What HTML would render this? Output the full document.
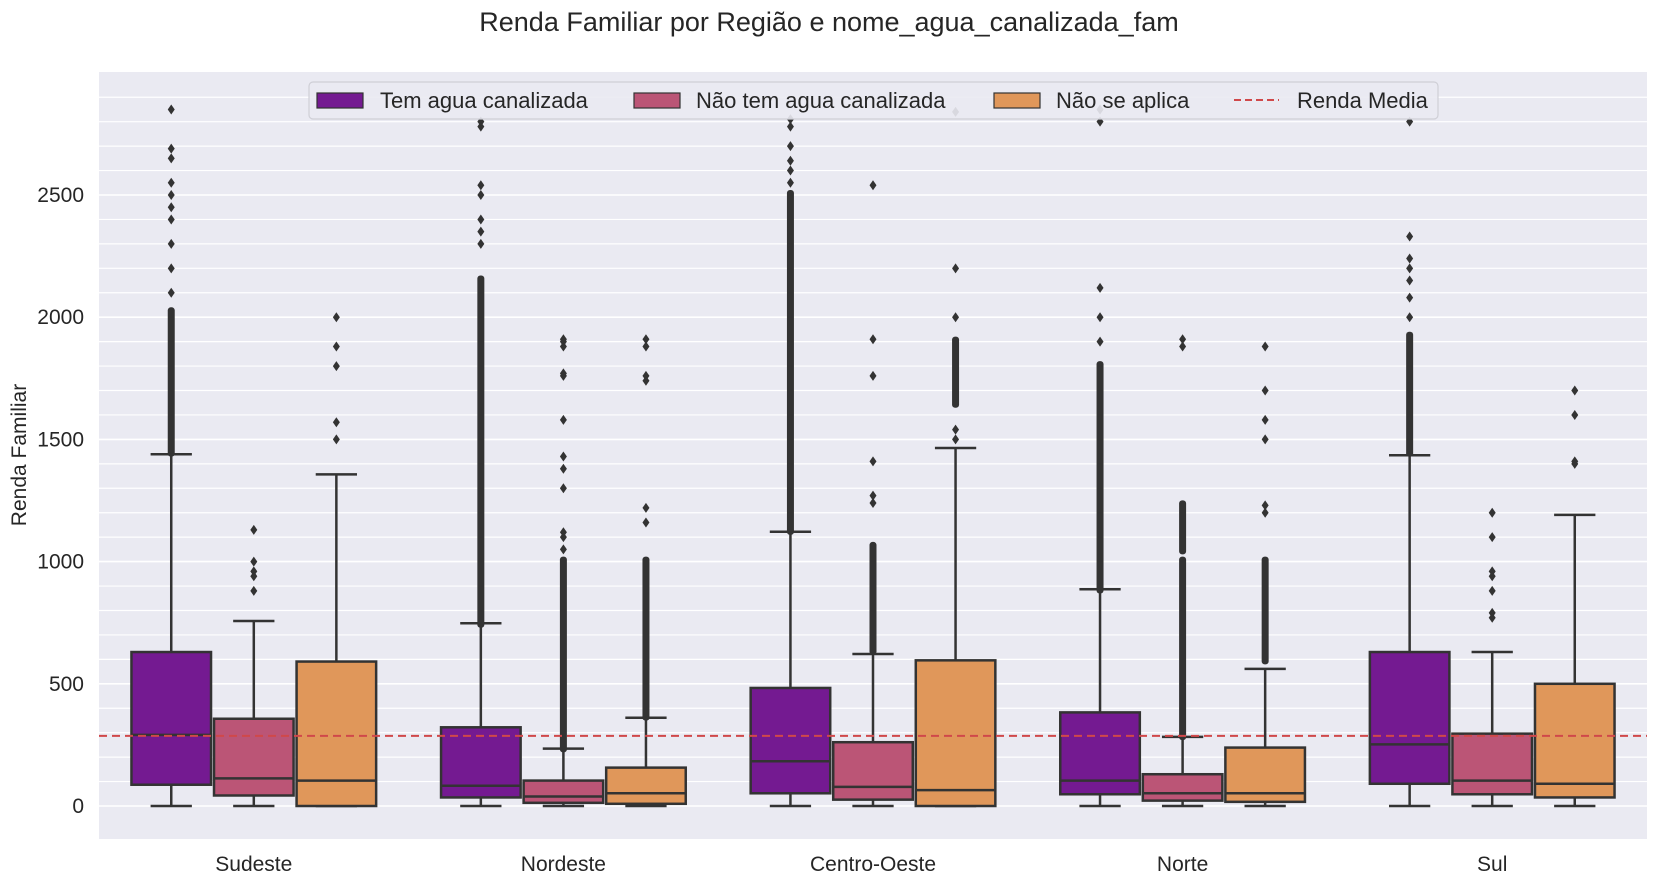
<!DOCTYPE html>
<html><head><meta charset="utf-8"><style>
body{margin:0;background:#fff;font-family:"Liberation Sans",sans-serif}
svg{display:block}
</style></head><body>
<svg id="c" width="1658" height="884" xmlns="http://www.w3.org/2000/svg"></svg>
<script>
const regions=["Sudeste","Nordeste","Centro-Oeste","Norte","Sul"];
const hues=["Tem agua canalizada","Não tem agua canalizada","Não se aplica"];
const hueColors=["#741a91","#bb5576","#e0975a"];
const yTicks=[0,500,1000,1500,2000,2500];
const meanIncome=287;
// [whislo,q1,median,q3,whishi] per region per hue
const stats=[
 [[0,87,291,630,1439],[0,43,113,357,757],[0,0,104,591,1357]],
 [[0,35,83,322,748],[0,13,39,104,235],[0,9,52,157,361]],
 [[0,52,183,483,1122],[0,26,78,261,622],[0,0,65,596,1465]],
 [[0,48,104,383,887],[0,22,52,130,283],[0,17,52,239,561]],
 [[0,91,252,630,1435],[0,48,104,296,630],[0,35,91,500,1191]]
];
// dense outlier runs [from,to]
const outlierRuns=[
 [[[1450,2020]],[],[]],
 [[[750,2150]],[[240,1000]],[[370,1000]]],
 [[[1130,2500]],[[640,1060]],[[1650,1900]]],
 [[[890,1800]],[[290,1000],[1050,1230]],[[600,1000]]],
 [[[1450,1920]],[],[]]
];
// single outliers
const outliers=[
 [[2100,2200,2300,2400,2450,2500,2550,2650,2690,2850],[880,940,960,1000,1130],[1500,1570,1800,1880,2000]],
 [[2300,2350,2400,2500,2540,2780,2800],[1050,1100,1120,1300,1380,1430,1580,1760,1770,1880,1900,1910],[1160,1220,1740,1760,1880,1910]],
 [[2550,2600,2640,2700,2780,2810],[1240,1270,1410,1760,1910,2540],[1500,1540,2000,2200,2840]],
 [[1900,2000,2120,2800,2850],[1880,1910],[1200,1230,1500,1580,1700,1880]],
 [[2000,2080,2150,2200,2240,2330,2800],[770,790,880,940,960,1100,1200],[1400,1410,1600,1700]]
];
const L=99,R=1647,T=72,B=839;
const y=v=>806-v*0.2444;
const catW=(R-L)/regions.length;
const boxW=catW*0.8/3;
const x=(ri,hi)=>L+catW*(ri+0.5)+(hi-1)*boxW;
const svg=document.getElementById('c');
const NS="http://www.w3.org/2000/svg";
function mk(tag,attrs,parent){const e=document.createElementNS(NS,tag);for(const k in attrs)e.setAttribute(k,attrs[k]);(parent||svg).appendChild(e);return e;}
let bg=mk('rect',{x:L,y:T,width:R-L,height:B-T,fill:'#eaeaf2'});


for(let v=0;v<=2900;v+=100){let g=mk('line',{x1:L,x2:R,y1:y(v),y2:y(v),stroke:'#fff','stroke-width':v%500?1.2:1.6});

}
yTicks.forEach(t=>{let tx=mk('text',{x:84,y:y(t)+7,'text-anchor':'end','font-size':21,fill:'#262626'});tx.textContent=t;

});
regions.forEach((r,ri)=>{let tx=mk('text',{x:L+catW*(ri+0.5),y:871,'text-anchor':'middle','font-size':21,fill:'#262626'});tx.textContent=r;

});
function diamond(cx,cy,g){let d=mk('path',{d:`M${cx},${cy-5}L${cx+3.5},${cy}L${cx},${cy+5}L${cx-3.5},${cy}Z`,fill:'#333'},g);

}
stats.forEach((reg,ri)=>reg.forEach((s,hi)=>{
 const cx=x(ri,hi);const g=mk('g',{});
 
 
 const [lo,q1,md,q3,hiw]=s;const st={stroke:'#333','stroke-width':2.5};
 mk('line',Object.assign({x1:cx,x2:cx,y1:y(lo),y2:y(q1)},st),g);
 mk('line',Object.assign({x1:cx,x2:cx,y1:y(q3),y2:y(hiw)},st),g);
 mk('line',Object.assign({x1:cx-boxW/4,x2:cx+boxW/4,y1:y(lo),y2:y(lo)},st),g);
 mk('line',Object.assign({x1:cx-boxW/4,x2:cx+boxW/4,y1:y(hiw),y2:y(hiw)},st),g);
 mk('rect',Object.assign({x:cx-boxW/2+1.5,y:y(q3),width:boxW-3,height:y(q1)-y(q3),fill:hueColors[hi]},st),g);
 mk('line',Object.assign({x1:cx-boxW/2+1.5,x2:cx+boxW/2-1.5,y1:y(md),y2:y(md)},st),g);
 outlierRuns[ri][hi].forEach(([a,b])=>{mk('rect',{x:cx-3.5,y:y(b)-5,width:7,height:y(a)-y(b)+10,rx:3,fill:'#333'},g);});
 outliers[ri][hi].forEach(v=>diamond(cx,y(v),g));
}));
let ml=mk('line',{x1:L,x2:R,y1:y(meanIncome),y2:y(meanIncome),stroke:'#d0484a','stroke-width':2,'stroke-dasharray':'8,5'});


let title=mk('text',{x:829,y:31,'text-anchor':'middle','font-size':27,fill:'#262626'});title.textContent='Renda Familiar por Região e nome_agua_canalizada_fam';


let yl=mk('text',{x:0,y:0,transform:'translate(26,455) rotate(-90)','text-anchor':'middle','font-size':21,fill:'#262626'});yl.textContent='Renda Familiar';


const lg=mk('g',{});


mk('rect',{x:309,y:82,width:1129,height:37,rx:4,fill:'#eaeaf2',stroke:'#cfcfd6','stroke-width':1.2,'fill-opacity':0.9},lg);
const px=[317,634,994],tx=[380,696,1056];
hues.forEach((h,i)=>{let p=mk('rect',{x:px[i],y:93,width:46,height:15,fill:hueColors[i],stroke:'#333','stroke-width':1.2},lg);


let t=mk('text',{x:tx[i],y:108,'font-size':22,fill:'#262626'},lg);t.textContent=h;

});
mk('line',{x1:1234,x2:1279,y1:100,y2:100,stroke:'#d0484a','stroke-width':2,'stroke-dasharray':'7,4'},lg);
let mt=mk('text',{x:1297,y:108,'font-size':22,fill:'#262626'},lg);mt.textContent='Renda Media';


</script>
</body></html>
